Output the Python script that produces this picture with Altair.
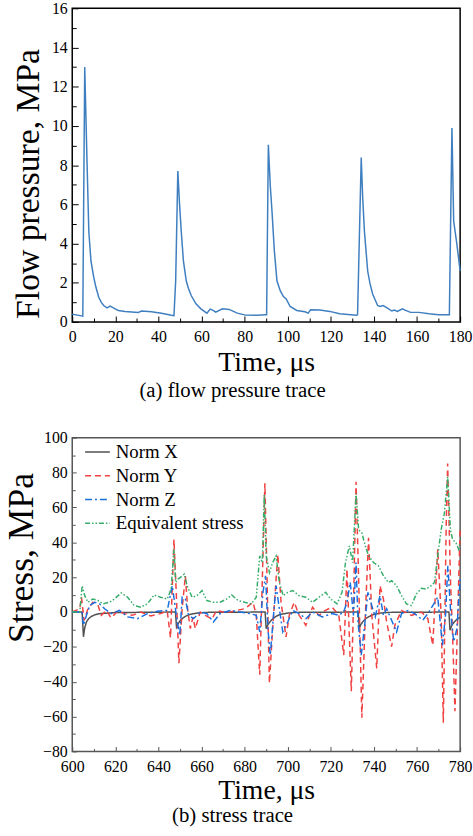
import altair as alt
import pandas as pd

FONT = "Liberation Serif"

# ---------------- (a) flow pressure trace ----------------
flow_t = [0, 2.5, 4.9, 5.8, 6.9, 7.7, 8.7, 10.0, 11.0, 12.3, 13.5, 14.6, 16.1, 17.6, 19.9,
          21.4, 24.5, 30.6, 32.2, 36.8, 41.4, 46.0, 47.2, 48.0, 49.0, 49.8, 50.6, 51.6,
          52.9, 53.9, 55.2, 57.4, 59.7, 62.5, 64.0, 65.4, 66.6, 69.7, 72.8, 76.6, 80.4,
          85.8, 89.6, 90.2, 91.0, 91.9, 92.7, 93.8, 95.0, 96.5, 98.0, 99.3, 101.1, 104.2,
          108.0, 109.5, 110.6, 114.9, 119.5, 124.1, 131.8, 132.4, 134.1, 134.8, 135.6,
          137.1, 138.2, 139.4, 141.7, 142.8, 144.3, 146.3, 148.3, 149.4, 150.9, 153.2,
          154.7, 157.0, 160.9, 165.5, 170.0, 175.0, 176.2, 177.0, 178.5, 180.0]
flow_p = [0.39, 0.35, 0.30, 13.0, 8.0, 4.6, 3.1, 2.27, 1.77, 1.26, 1.0, 0.84, 0.72, 0.81, 0.67,
          0.59, 0.54, 0.49, 0.56, 0.52, 0.45, 0.34, 0.32, 2.1, 7.7, 6.0, 4.6, 3.1,
          2.1, 1.72, 1.35, 0.93, 0.67, 0.45, 0.66, 0.59, 0.50, 0.67, 0.64, 0.45, 0.35,
          0.34, 0.37, 0.37, 9.04, 6.95, 5.64, 3.6, 2.1, 1.6, 1.3, 1.18, 0.79, 0.59,
          0.52, 0.45, 0.62, 0.61, 0.54, 0.42, 0.34, 0.37, 8.39, 6.3, 4.6,
          2.6, 1.94, 1.43, 0.84, 0.79, 0.84, 0.71, 0.56, 0.61, 0.54, 0.67,
          0.59, 0.49, 0.49, 0.42, 0.37, 0.37, 9.9, 5.14, 3.96, 2.6]

flow_major_x = [0, 20, 40, 60, 80, 100, 120, 140, 160, 180]
flow_minor_x = [10, 30, 50, 70, 90, 110, 130, 150, 170]
flow_major_y = [0, 2, 4, 6, 8, 10, 12, 14, 16]
flow_minor_y = [1, 3, 5, 7, 9, 11, 13, 15]

# ---------------- (b) stress trace ----------------
series_names = ["Norm X", "Norm Y", "Norm Z", "Equivalent stress"]
series_colors = ["#515151", "#F14040", "#1A6FDF", "#37AD6B"]
series_dashes = [[1, 0], [6, 4], [7, 3, 2, 3], [5, 2, 1.5, 2, 1.5, 2]]

nx_t = [600, 604.6, 605.2, 605.8, 606.6, 607.6, 608.9, 610.5, 611.9, 614, 616.5, 620,
        647.9, 648.4, 649.2, 650.2, 651.3, 652.5, 654, 655.6, 658, 662,
        689.5, 690, 690.9, 692.3, 693.4, 694.6, 696, 697.7, 700, 704,
        732.7, 733.2, 734.0, 735.2, 736.3, 737.5, 739, 740.5, 743, 747,
        774.8, 775.3, 776.2, 777.3, 778.5, 780]
nx_v = [0, 0, -14.2, -9, -5.7, -3.8, -2.5, -1.6, -1.1, -0.8, -0.6, -0.3,
        0, -8.6, -6.5, -4.8, -3.5, -2.5, -1.6, -1.1, -0.6, -0.2,
        0, -9.5, -7, -4.8, -3.5, -2.5, -1.6, -1.1, -0.6, -0.2,
        0, -9.1, -7, -5, -3.7, -2.8, -1.8, -1.2, -0.6, -0.2,
        0, -10.4, -7.5, -5.7, -4.2, -3]

ny_t = [600, 603.5, 604.3, 605.5, 607.3, 609.6, 612, 613.5, 615.8, 618, 621.1, 624.2, 628,
        631.8, 636.4, 641, 644.1, 645.6, 647.2, 648.3, 649.5, 651, 652.5, 653.6, 654.8, 656,
        657.1, 659.4, 662, 664.8, 667, 671.7, 676.2, 680, 683.9, 685.4, 687, 688.5, 689.4,
        690.3, 691.5, 693, 695.4, 696.9, 699.2, 700.7, 703, 705.3, 708.4, 711.5, 714.5,
        717.5, 720.6, 723.7, 726, 727.5, 729.5, 730.6, 731.7, 732.9, 734.4, 736, 737.5, 739,
        741.3, 742.8, 744.4, 745.9, 748.2, 749.7, 752.8, 757.4, 762, 765, 767.3, 769.6,
        771.2, 772.2, 773.5, 774.2, 775.5, 776.5, 777.6, 778.8, 780]
ny_v = [0, 1.9, 8.5, -4.8, 1.9, 5.6, 3.7, -1.9, 0.9, -3.4, 0.5, -0.9, -1.9,
        0, -2.3, -0.9, 0.5, -14.8, 41.6, 10, -29.4, 1.9, 20.8, 1, -9.5, -3,
        -9.5, 0, -2, -4, 0.9, -0.4, 0.9, 1.9, 5.6, -1.9, -36, 32, 73.9,
        24.6, -40.8, -9.5, 33, 5.6, -14.3, -1.9, 5.6, -1.9, -7.6, 2.8, -1.9,
        1, 2.8, -1.9, -24.7, 24.6, -45.5, 9.4, 74.8, 18.9, -60.7, -1.9, 42.6, -1.9,
        -32.3, 15.1, 7.5, -5.7, -19.9, -7.6, 0.9, -1.9, 0, -3.8, -19, 36,
        -1.9, -63.5, 47.3, 85.2, 18.9, -13.3, -56.9, -5.7, 48.3]

nz_t = [600, 604.5, 605.2, 606.6, 608.1, 610.4, 612.7, 615, 618, 621.9, 625.7, 630.3, 634.9,
        639.5, 644.1, 646.4, 647.5, 648.7, 649.9, 651, 652.5, 654, 656.3, 659.4, 662.5,
        665.5, 668.6, 673.2, 677.8, 682.4, 685.4, 687, 688.5, 689.7, 690.8, 691.9, 693.4,
        694.6, 696.1, 697.7, 700, 702.3, 705.3, 708.4, 711.5, 716, 720.6, 723.7, 725.9,
        727.5, 729, 730.5, 731.7, 732.6, 734.1, 735.7, 737.2, 739, 740.6, 742.8, 744.4,
        745.9, 748.2, 750.5, 752.8, 755.9, 758.9, 762.7, 765, 767.3, 769.6, 771.8, 773.2,
        774.3, 775.5, 777, 778.5, 780]
nz_v = [0, 0, -7.6, -1.9, 3.7, 5.6, 4.7, 1.9, -0.9, 0.9, -2.8, -3.8, -0.9,
        0.5, 0.9, 15.1, 5.6, -5.7, -13.3, 8.5, 7.5, -1.9, -3.8, 0, -0.9,
        -5.7, -0.9, 0.9, 0, -0.9, -1.9, -11.4, 11.3, 20.8, -9.5, -24.7, -1.9,
        15.1, 1.9, -11.4, -5.7, 0.9, -0.9, -3.8, 0, -2.8, -0.9, -1.9, 0,
        5.6, 17, -1.9, 28.4, -5.7, -24.7, -7.6, 11.3, 3.7, -2.8, 9.4, -1.9,
        1.9, -4.7, -11.4, -0.9, 0.9, -0.9, -4.7, -0.9, 3.7, 8.5, -19, -1.9,
        26.5, 2, -17, -9.5, 18.9]

eq_t = [600, 603.5, 604.6, 605.8, 607.3, 609.6, 612, 614.2, 617.3, 619.6, 622.7, 625.7,
        628.8, 631.8, 634.9, 638, 641, 644.1, 645.9, 647.2, 648, 649.1, 650.2, 652,
        653.3, 655.6, 657.9, 660.2, 662.5, 665.5, 668.6, 671.7, 674, 677, 680, 683.1,
        685.4, 687, 688.2, 689.1, 690, 691.5, 693, 694.6, 696.1, 697.9, 700, 702.3,
        705.3, 708.4, 711.5, 714.5, 717.6, 719.9, 722.9, 725.2, 726.8, 728.6, 730.1,
        731.7, 732.9, 734.4, 736, 737.5, 739.8, 742.1, 744.4, 746.7, 748.2, 750.5,
        752.8, 755.1, 757.4, 759.7, 762, 764.3, 766.6, 768.1, 769.6, 771.2, 772.7,
        774.2, 775.5, 776.5, 778.1, 779.3, 780]
eq_v = [0, 0, 15.1, 9.4, 5.6, 7.5, 6.6, 4.7, 5.6, 7.5, 11, 8.5,
        3.7, 2.8, 4.7, 9.8, 8.5, 7.5, 13.2, 36, 17, 18.9, 19.9, 21.8,
        15.1, 8.5, 9.4, 12.3, 6.6, 5.6, 5.6, 7.5, 9.8, 6.6, 5.6, 4.7,
        8.5, 32.2, 28.4, 67.2, 32.2, 22.7, 28.4, 32.2, 17, 9.4, 11.3, 12.3,
        9.4, 8.5, 5.6, 8.5, 11.3, 7.5, 4.7, 11.3, 28.4, 37.9, 28.4,
        68.2, 47.3, 45.4, 37.9, 32.2, 28.4, 26.5, 20.8, 17, 18, 15.1,
        9.4, 4.7, 3.7, 10.4, 13.6, 13.2, 15.1, 17, 32.2, 47.3, 56.8,
        77.6, 47.3, 41.6, 39.7, 36, 39.7]

stress_major_x = [600, 620, 640, 660, 680, 700, 720, 740, 760, 780]
stress_minor_x = [610, 630, 650, 670, 690, 710, 730, 750, 770]
stress_major_y = [-80, -60, -40, -20, 0, 20, 40, 60, 80, 100]
stress_minor_y = [-70, -50, -30, -10, 10, 30, 50, 70, 90]

W, H = 392, 317


def major_axis(orient, title, values, tick, color, title_size, label_pad, title_pad, title_y=None):
    kw = {}
    if title_y is not None:
        kw["titleY"] = title_y
    return alt.Axis(orient=orient, title=title, values=values, tickSize=tick, offset=-tick,
                    domain=False, grid=False, ticks=True, tickColor=color, tickWidth=1,
                    labelFont=FONT, labelFontSize=16, labelColor="black",
                    labelPadding=label_pad, labelFlush=False, labelOverlap=False,
                    titleFont=FONT, titleFontSize=title_size, titleFontWeight="normal",
                    titleColor="black", titlePadding=title_pad, **kw)


def minor_axis(orient, values, tick, color):
    return alt.Axis(orient=orient, title=None, values=values, tickSize=tick, offset=-tick,
                    domain=False, grid=False, ticks=True, tickColor=color, tickWidth=1,
                    labels=False)


# ---- top panel ----
flow_df = pd.DataFrame({"t": flow_t, "p": flow_p})
fx = alt.Scale(domain=[0, 180], nice=False, zero=False)
fy = alt.Scale(domain=[0, 16], nice=False)
top_line = alt.Chart(flow_df).mark_line(color="#3f7fc0", strokeWidth=1.5).encode(
    x=alt.X("t:Q", scale=fx, axis=major_axis("bottom", "Time, μs", flow_major_x, 6, "black", 28, 7, 4)),
    y=alt.Y("p:Q", scale=fy, axis=major_axis("left", "Flow pressure, MPa", flow_major_y, 6, "black", 34, 5, 6, 177)),
)
top_minor = alt.Chart(flow_df).mark_line(opacity=0).encode(
    x=alt.X("t:Q", scale=fx, axis=minor_axis("bottom", flow_minor_x, 4, "black")),
    y=alt.Y("p:Q", scale=fy, axis=minor_axis("left", flow_minor_y, 4, "black")),
)
top = alt.layer(top_line, top_minor).resolve_axis(x="independent", y="independent").properties(
    width=W, height=H,
    title=alt.TitleParams("(a) flow pressure trace", orient="bottom", anchor="middle", dx=-34,
                          font=FONT, fontSize=21, fontWeight="normal", color="black", offset=4),
    view=alt.ViewBackground(stroke="black", strokeWidth=1.5),
)

# ---- bottom panel ----
frames = []
for name, ts, vs in [("Norm X", nx_t, nx_v), ("Norm Y", ny_t, ny_v),
                     ("Norm Z", nz_t, nz_v), ("Equivalent stress", eq_t, eq_v)]:
    frames.append(pd.DataFrame({"t": ts, "v": vs, "series": name}))
stress_df = pd.concat(frames, ignore_index=True)

sx = alt.Scale(domain=[600, 780], nice=False, zero=False)
sy = alt.Scale(domain=[-80, 100], nice=False)
leg = alt.Legend(orient="none", legendX=12, legendY=1, title=None, symbolType="stroke",
                 symbolSize=625, symbolStrokeWidth=1.5, labelFont=FONT, labelFontSize=19,
                 labelColor="black", labelOffset=5, rowPadding=0, labelLimit=300,
                 fillColor="transparent", strokeColor="transparent")
bot_line = alt.Chart(stress_df).mark_line(strokeWidth=1.5).encode(
    x=alt.X("t:Q", scale=sx, axis=major_axis("bottom", "Time, μs", stress_major_x, 5, "#555555", 28, 7, 3)),
    y=alt.Y("v:Q", scale=sy, axis=major_axis("left", "Stress, MPa", stress_major_y, 4, "#555555", 36, 5, 2, 121)),
    color=alt.Color("series:N", scale=alt.Scale(domain=series_names, range=series_colors), legend=leg),
    strokeDash=alt.StrokeDash("series:N", scale=alt.Scale(domain=series_names, range=series_dashes), legend=leg),
)
bot_minor = alt.Chart(stress_df).mark_line(opacity=0).encode(
    x=alt.X("t:Q", scale=sx, axis=minor_axis("bottom", stress_minor_x, 3, "#555555")),
    y=alt.Y("v:Q", scale=sy, axis=minor_axis("left", stress_minor_y, 3, "#555555")),
)
bottom = alt.layer(bot_line, bot_minor).resolve_axis(x="independent", y="independent").properties(
    width=W, height=H,
    title=alt.TitleParams("(b) stress trace", orient="bottom", anchor="middle", dx=-34,
                          font=FONT, fontSize=21, fontWeight="normal", color="black", offset=0),
    view=alt.ViewBackground(stroke="#555555", strokeWidth=1.5),
)

chart = alt.vconcat(top, bottom, spacing=27).resolve_legend(
    color="independent", strokeDash="independent"
).properties(
    padding={"left": 3, "top": -5, "right": 0, "bottom": 0},
    background="white",
).configure(font=FONT).configure_axis(
    labelFont=FONT, titleFont=FONT
).configure_legend(labelFont=FONT, titleFont=FONT).configure_title(font=FONT)

chart.save("out.html", embed_options={"renderer": "svg", "actions": False})
